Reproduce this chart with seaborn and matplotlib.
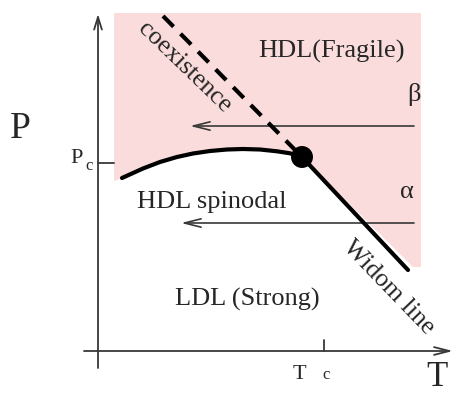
import numpy as np
import matplotlib
matplotlib.use("Agg")
import matplotlib.pyplot as plt
import seaborn as sns

sns.set_theme(style="white")
plt.rcParams["font.family"] = ["Liberation Serif", "DejaVu Serif"]

# Schematic phase diagram in reduced (T, P) units
spinodal_T = [0.24, 0.45, 0.62, 0.79, 0.95, 1.12, 1.29, 1.45, 1.62, 1.79, 1.92, 2.04]
spinodal_P = [1.730, 1.825, 1.890, 1.940, 1.975, 2.000, 2.015, 2.020, 2.015,
              1.997, 1.977, 1.940]

critical_T, critical_P = 2.04, 1.94
coexistence_T = [0.65, critical_T]
coexistence_P = [3.35, critical_P]
widom_T = [critical_T, 3.10]
widom_P = [critical_P, 0.81]

# Fragile (HDL) region boundary
hdl_left_T, hdl_right_T, hdl_top_P = 0.16, 3.23, 3.38
hdl_edge_T = [3.15, 3.23]
hdl_edge_P = [0.84, 0.84]
hdl_left_P = 1.70

# Isobaric cooling paths
path_names = ["β", "α"]
path_P = [2.25, 1.28]
path_start_T = 3.16
path_end_T = [0.92, 0.83]

Pc_tick, Tc_tick = 1.88, 2.26

fig = plt.figure(figsize=(4.57, 3.95), dpi=100)
ax = fig.add_axes([0, 0, 1, 1])
ax.set_xlim(-0.98, 3.59)
ax.set_ylim(-0.44, 3.51)
ax.axis("off")

pink = "#fbdcdc"
poly_T = ([critical_T] + hdl_edge_T + [hdl_right_T, hdl_left_T, hdl_left_T]
          + spinodal_T)
poly_P = ([critical_P] + hdl_edge_P + [hdl_top_P, hdl_top_P, hdl_left_P]
          + spinodal_P)
ax.fill(poly_T, poly_P, color=pink, lw=0, zorder=0)

axis_col = "#383838"
# coordinate axes with arrow heads
ax.annotate("", xy=(0, 3.37), xytext=(0, -0.17),
            arrowprops=dict(arrowstyle="->,head_length=0.45,head_width=0.14",
                            mutation_scale=20, lw=1.3, color=axis_col,
                            shrinkA=0, shrinkB=0), zorder=3)
ax.annotate("", xy=(3.55, 0), xytext=(-0.14, 0),
            arrowprops=dict(arrowstyle="->,head_length=0.55,head_width=0.14",
                            mutation_scale=20, lw=1.3, color=axis_col,
                            shrinkA=0, shrinkB=0), zorder=3)
ax.plot([0, 0.16], [Pc_tick, Pc_tick], color=axis_col, lw=1.3)
ax.plot([Tc_tick, Tc_tick], [0, 0.11], color=axis_col, lw=1.3)

# cooling paths
for name, p, t_end in zip(path_names, path_P, path_end_T):
    ax.annotate("", xy=(t_end, p), xytext=(path_start_T, p),
                arrowprops=dict(arrowstyle="->,head_length=0.6,head_width=0.15",
                                mutation_scale=20, lw=1.2, color=axis_col,
                                shrinkA=0, shrinkB=0), zorder=2)

# spinodal, coexistence and Widom lines
sns.lineplot(x=spinodal_T, y=spinodal_P, sort=False, estimator=None,
             color="black", lw=3, ax=ax, zorder=4)
ax.plot(coexistence_T, coexistence_P, color="black", lw=3,
        dashes=(3.6, 2.4), zorder=4)
ax.plot(widom_T, widom_P, color="black", lw=3, zorder=4)
sns.scatterplot(x=[critical_T], y=[critical_P], s=250, color="black",
                edgecolor="none", ax=ax, zorder=5)

fs = 19
ax.text(2.33, 2.93, "HDL(Fragile)", fontsize=fs, ha="center", va="baseline")
ax.text(0.39, 1.43, "HDL spinodal", fontsize=fs, ha="left", va="baseline")
ax.text(0.77, 0.45, "LDL (Strong)", fontsize=fs, ha="left", va="baseline")
ax.text(3.16, 2.50, path_names[0], fontsize=fs, ha="center", va="baseline")
ax.text(3.09, 1.53, path_names[1], fontsize=fs, ha="center", va="baseline")
ax.text(0.86, 2.84, "coexistence", fontsize=18.5, rotation=-44,
        rotation_mode="anchor", ha="center", va="center")
ax.text(2.90, 0.64, "Widom line", fontsize=18.5, rotation=-46,
        rotation_mode="anchor", ha="center", va="center")

ax.text(-0.88, 2.13, "P", fontsize=27, ha="left", va="baseline")
ax.text(3.39, -0.355, "T", fontsize=25, ha="center", va="baseline")
ax.text(-0.28, Pc_tick, "P", fontsize=16, ha="left", va="baseline")
ax.text(-0.13, 1.81, "c", fontsize=12, ha="left", va="baseline")
ax.text(1.95, -0.28, "T", fontsize=16, ha="left", va="baseline")
ax.text(2.24, -0.28, "c", fontsize=12, ha="left", va="baseline")

fig.savefig("out.png", dpi=100)
